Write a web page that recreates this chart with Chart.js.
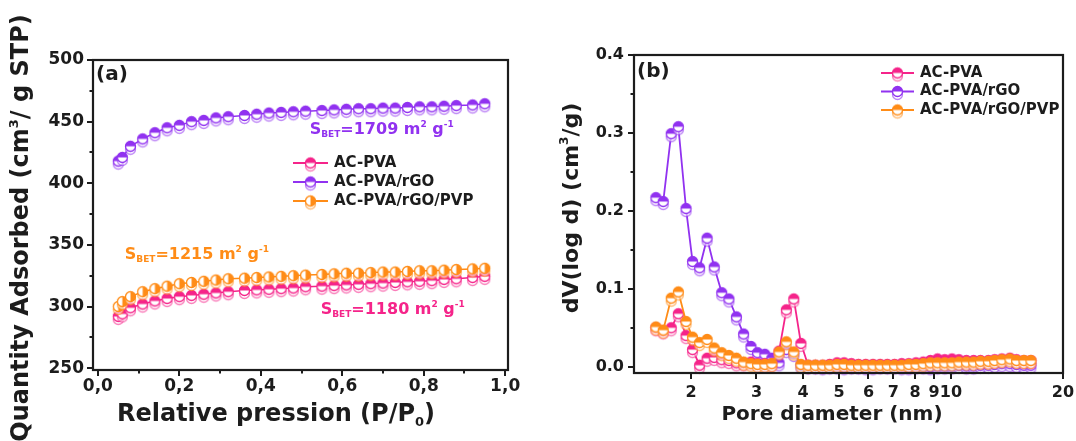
<!DOCTYPE html>
<html>
<head>
<meta charset="utf-8">
<script src="https://cdn.jsdelivr.net/npm/chart.js@4.4.1/dist/chart.umd.min.js"></script>
<style>
  body { margin: 0; background: #fff; width: 1076px; height: 441px; position: relative; overflow: hidden; }
  canvas { position: absolute; top: 0; }
  #isoChart { left: 0; }
  #psdChart { left: 540px; }
</style>
</head>
<body>
<canvas id="isoChart" width="540" height="441" style="width:540px;height:441px"></canvas>
<canvas id="psdChart" width="536" height="441" style="width:536px;height:441px"></canvas>
<script>
// ---- Data: (a) N2 isotherms ----
const relPressure = [0.05, 0.06, 0.08, 0.11, 0.14, 0.17, 0.20, 0.23, 0.26, 0.29,
                     0.32, 0.36, 0.39, 0.42, 0.45, 0.48, 0.51, 0.55, 0.58, 0.61,
                     0.64, 0.67, 0.70, 0.73, 0.76, 0.79, 0.82, 0.85, 0.88, 0.92, 0.95];
const isoPVA = [292, 294, 299, 302, 304.5, 306.5, 308, 309, 310, 311,
                312, 313, 313.5, 314, 314.5, 315, 316, 316.5, 317, 317.5,
                318, 318.5, 319, 319.5, 320, 320.5, 321, 322, 322.5, 323.5, 324.5];
const isoRGO = [418, 421, 430, 436, 441, 445, 447, 450, 451, 453,
                454, 455, 456, 457, 457.5, 458, 458.5, 459, 459.5, 460,
                460.5, 460.5, 461, 461, 461.5, 462, 462, 462.5, 463, 463.5, 464.5];
const isoPVP = [300, 304, 308, 312, 314.5, 316.5, 318.5, 319.5, 320.5, 321.5,
                322.5, 323, 323.5, 324, 324.5, 325, 325.5, 326, 326.5, 327,
                327, 327.5, 328, 328, 328.5, 329, 329, 329.5, 330, 330.5, 331];
const isoTicksX = [0, 0.1, 0.2, 0.3, 0.4, 0.5, 0.6, 0.7, 0.8, 0.9, 1.0];
const isoTicksY = [250, 275, 300, 325, 350, 375, 400, 425, 450, 475, 500];
const sbetValues = ['1180', '1709', '1215'];

// ---- Data: (b) pore size distribution ----
const poreDiameter = [1.61, 1.685, 1.77, 1.85, 1.94, 2.02, 2.11, 2.21, 2.31, 2.42,
                      2.53, 2.65, 2.77, 2.90, 3.02, 3.16, 3.30, 3.45, 3.61, 3.78,
                      3.95, 4.13, 4.32, 4.52, 4.72, 4.94, 5.16, 5.40, 5.64, 5.90,
                      6.17, 6.45, 6.74, 7.05, 7.37, 7.70, 8.05, 8.42, 8.80, 9.20,
                      9.62, 10.06, 10.5, 11.0, 11.5, 12.0, 12.6, 13.1, 13.7, 14.4,
                      15.0, 15.7, 16.4];
const psdPVA = [0.050, 0.046, 0.050, 0.068, 0.040, 0.022, 0.002, 0.011, 0.012, 0.009,
                0.008, 0.005, 0.005, 0.006, 0.004, 0.004, 0.004, 0.020, 0.073, 0.087,
                0.030, 0.002, 0.002, 0.002, 0.003, 0.005, 0.005, 0.004, 0.003, 0.003,
                0.003, 0.003, 0.003, 0.003, 0.004, 0.004, 0.005, 0.006, 0.008, 0.010,
                0.009, 0.010, 0.009, 0.008, 0.008, 0.008, 0.008, 0.009, 0.010, 0.011,
                0.009, 0.008, 0.008];
const psdRGO = [0.217, 0.212, 0.299, 0.308, 0.203, 0.135, 0.127, 0.165, 0.128, 0.095,
                0.087, 0.064, 0.042, 0.026, 0.018, 0.016, 0.011, 0.005, 0.022, 0.017,
                0.002, 0.001, 0.001, 0.000, 0.001, 0.001, 0.000, 0.001, 0.001, 0.000,
                0.000, 0.001, 0.001, 0.001, 0.000, 0.000, 0.001, 0.001, 0.000, 0.001,
                0.001, 0.001, 0.002, 0.001, 0.001, 0.002, 0.002, 0.003, 0.004, 0.004,
                0.003, 0.002, 0.002];
const psdPVP = [0.051, 0.047, 0.088, 0.096, 0.058, 0.038, 0.031, 0.035, 0.024, 0.018,
                0.0145, 0.011, 0.006, 0.004, 0.003, 0.003, 0.004, 0.019, 0.032, 0.019,
                0.003, 0.002, 0.002, 0.002, 0.002, 0.003, 0.003, 0.002, 0.002, 0.002,
                0.002, 0.002, 0.002, 0.002, 0.002, 0.003, 0.003, 0.004, 0.005, 0.005,
                0.005, 0.005, 0.006, 0.006, 0.006, 0.007, 0.007, 0.008, 0.009, 0.010,
                0.008, 0.008, 0.008];
const psdTicksX = [2, 3, 4, 5, 6, 7, 8, 9, 10, 20];
const psdTicksY = [0, 0.05, 0.1, 0.15, 0.2, 0.25, 0.3, 0.35, 0.4];

const seriesNames = ['AC-PVA', 'AC-PVA/rGO', 'AC-PVA/rGO/PVP'];

// Colours
const PINK = '#f5248a', PURPLE = '#9132f0', ORANGE = '#ff8c17', INK = '#1c1c1c';
const FONT = '"DejaVu Sans", Verdana, sans-serif';

// Half filled circle with a faint open circle below (desorption branch)
function marker(color, split, r) {
    const c = document.createElement('canvas');
    c.width = 2 * r + 5; c.height = 2 * r + 11;
    const g = c.getContext('2d');
    const cx = c.width / 2, cy = c.height / 2;
    g.lineWidth = 1.3;
    g.globalAlpha = 0.6;
    g.beginPath(); g.arc(cx, cy + 3, r, 0, 2 * Math.PI);
    g.fillStyle = '#fff'; g.fill(); g.strokeStyle = color; g.stroke();
    g.globalAlpha = 1;
    g.beginPath(); g.arc(cx, cy, r, 0, 2 * Math.PI); g.fillStyle = '#fff'; g.fill();
    g.beginPath();
    if (split === 'right') g.arc(cx, cy, r, -Math.PI / 2, Math.PI / 2);
    else g.arc(cx, cy, r, Math.PI, 2 * Math.PI);
    g.closePath(); g.fillStyle = color; g.fill();
    g.beginPath(); g.arc(cx, cy, r, 0, 2 * Math.PI); g.strokeStyle = color; g.stroke();
    return c;
}

// Rich text: parts = [{t, s (size factor), dy (fraction of size)}]
function drawRich(ctx, parts, x, y, size, color, align, angle) {
    ctx.save();
    ctx.translate(x, y);
    if (angle) ctx.rotate(angle);
    ctx.fillStyle = color;
    ctx.textBaseline = 'middle';
    ctx.textAlign = 'left';
    const fontOf = p => `bold ${Math.round(size * (p.s || 1))}px ${FONT}`;
    let total = 0;
    parts.forEach(p => { ctx.font = fontOf(p); total += ctx.measureText(p.t).width; });
    let cx = align === 'center' ? -total / 2 : 0;
    parts.forEach(p => {
        ctx.font = fontOf(p);
        ctx.fillText(p.t, cx, (p.dy || 0) * size);
        cx += ctx.measureText(p.t).width;
    });
    ctx.restore();
}
const sup = t => ({ t, s: 0.55, dy: -0.32 });
const sub = t => ({ t, s: 0.55, dy: 0.3 });

// Box frame + outward ticks (major = labelled)
const framePlugin = {
    id: 'frame',
    afterDraw(chart) {
        const { ctx, chartArea: a } = chart;
        ctx.save();
        ctx.strokeStyle = INK;
        ctx.lineWidth = 2.2;
        ctx.strokeRect(a.left, a.top, a.right - a.left, a.bottom - a.top);
        ctx.lineWidth = 2;
        ['x', 'y'].forEach(id => {
            const s = chart.scales[id];
            s.ticks.forEach((t, i) => {
                const p = Math.round(s.getPixelForTick(i));
                const len = t.label ? 6 : 3.5;
                ctx.beginPath();
                if (id === 'x') { ctx.moveTo(p, a.bottom); ctx.lineTo(p, a.bottom + len); }
                else { ctx.moveTo(a.left, p); ctx.lineTo(a.left - len, p); }
                ctx.stroke();
            });
        });
        ctx.restore();
    }
};

// Legend, titles and panel annotations
const textPlugin = {
    id: 'texts',
    afterDraw(chart, args, o) {
        const ctx = chart.ctx;
        // legend
        chart.data.datasets.forEach((ds, i) => {
            const y = o.legend.y + i * o.legend.row;
            ctx.save();
            ctx.strokeStyle = ds.borderColor;
            ctx.lineWidth = 2;
            ctx.beginPath(); ctx.moveTo(o.legend.x, y); ctx.lineTo(o.legend.x + o.legend.len, y); ctx.stroke();
            const img = ds.pointStyle;
            ctx.drawImage(img, o.legend.x + o.legend.len / 2 - img.width / 2, y - img.height / 2);
            ctx.restore();
            drawRich(ctx, [{ t: ds.label }], o.legend.x + o.legend.len + 6, y, 15, INK, 'left');
        });
        // panel letter
        drawRich(ctx, [{ t: o.panel.text }], o.panel.x, o.panel.y, 20, INK, 'left');
        // axis titles
        drawRich(ctx, o.xTitle.parts, o.xTitle.x, o.xTitle.y, o.xTitle.size, INK, 'center');
        drawRich(ctx, o.yTitle.parts, o.yTitle.x, o.yTitle.y, o.yTitle.size, INK, 'center', -Math.PI / 2);
        // S_BET notes anchored in data coordinates
        (o.notes || []).forEach(n => {
            const x = chart.scales.x.getPixelForValue(n.x);
            const y = chart.scales.y.getPixelForValue(n.y);
            drawRich(ctx, [{ t: 'S' }, sub('BET'), { t: '=' + n.value + ' m' }, sup('2'), { t: ' g' }, sup('-1')],
                x, y, 16, n.color, 'left');
        });
    }
};

const isMult = (v, step) => Math.abs(v / step - Math.round(v / step)) < 1e-6;
const tickFont = size => ({ family: FONT, weight: 'bold', size });

// fixed axis box sizes so the plot frames land where the original has them
const fixHeight = h => s => { s.height = h; s.paddingLeft = 0; s.paddingRight = 0; };
const fixWidth = w => s => { s.width = w; s.paddingTop = 0; s.paddingBottom = 0; };

// ---- Chart (a) ----
const isoSeries = [isoPVA, isoRGO, isoPVP];
const isoColors = [PINK, PURPLE, ORANGE];
const isoSplit = ['top', 'top', 'right'];
const isoOrder = [1, 2, 0];

new Chart(document.getElementById('isoChart'), {
    type: 'line',
    data: {
        datasets: isoSeries.map((vals, k) => ({
            label: seriesNames[k],
            data: relPressure.map((x, i) => ({ x, y: vals[i] })),
            borderColor: isoColors[k],
            borderWidth: 1.5,
            pointStyle: marker(isoColors[k], isoSplit[k], 5),
            pointRadius: 5,
            tension: 0,
            order: isoOrder[k],
            clip: false
        }))
    },
    options: {
        responsive: false,
        animation: false,
        events: [],
        layout: { padding: { top: 60, right: 32, left: 0, bottom: 0 } },
        plugins: {
            legend: { display: false },
            tooltip: { enabled: false },
            texts: {
                legend: { x: 293, y: 163, row: 19, len: 35 },
                panel: { text: '(a)', x: 96, y: 75 },
                xTitle: { parts: [{ t: 'Relative pression (P/P' }, sub('0'), { t: ')' }], x: 276, y: 415, size: 24 },
                yTitle: { parts: [{ t: 'Quantity Adsorbed (cm' }, sup('3'), { t: '/ g STP)' }], x: 22, y: 228, size: 24 },
                notes: [
                    { x: 0.547, y: 297, value: sbetValues[0], color: PINK },
                    { x: 0.52, y: 443, value: sbetValues[1], color: PURPLE },
                    { x: 0.066, y: 342, value: sbetValues[2], color: ORANGE }
                ]
            }
        },
        scales: {
            x: {
                type: 'linear', min: -0.012, max: 1.007,
                afterBuildTicks: s => { s.ticks = isoTicksX.map(v => ({ value: v })); },
                afterFit: fixHeight(71),
                grid: { display: false, drawTicks: false },
                border: { display: false },
                ticks: {
                    autoSkip: false, maxRotation: 0, padding: 6, color: INK, font: tickFont(17),
                    callback: v => isMult(v, 0.2) ? v.toFixed(1).replace('.', ',') : ''
                }
            },
            y: {
                type: 'linear', min: 248.5, max: 500,
                afterBuildTicks: s => { s.ticks = isoTicksY.map(v => ({ value: v })); },
                afterFit: fixWidth(93),
                grid: { display: false, drawTicks: false },
                border: { display: false },
                ticks: {
                    autoSkip: false, padding: 9, color: INK, font: tickFont(17),
                    callback: v => isMult(v, 50) ? String(v) : ''
                }
            }
        }
    },
    plugins: [framePlugin, textPlugin]
});

// ---- Chart (b) ----
const psdSeries = [psdPVA, psdRGO, psdPVP];
const psdOrder = [1, 2, 0];

new Chart(document.getElementById('psdChart'), {
    type: 'line',
    data: {
        datasets: psdSeries.map((vals, k) => ({
            label: seriesNames[k],
            data: poreDiameter.map((x, i) => ({ x, y: vals[i] })),
            borderColor: isoColors[k],
            borderWidth: 1.8,
            pointStyle: marker(isoColors[k], 'top', 5),
            pointRadius: 5,
            tension: 0,
            order: psdOrder[k],
            clip: false
        }))
    },
    options: {
        responsive: false,
        animation: false,
        events: [],
        layout: { padding: { top: 55, right: 13, left: 0, bottom: 0 } },
        plugins: {
            legend: { display: false },
            tooltip: { enabled: false },
            texts: {
                legend: { x: 341, y: 73, row: 18.5, len: 33 },
                panel: { text: '(b)', x: 97, y: 72 },
                xTitle: { parts: [{ t: 'Pore diameter (nm)' }], x: 292, y: 415, size: 20 },
                yTitle: { parts: [{ t: 'dV(log d) (cm' }, sup('3'), { t: '/g)' }], x: 32, y: 208, size: 22 }
            }
        },
        scales: {
            x: {
                type: 'logarithmic', min: 1.406, max: 20,
                afterBuildTicks: s => { s.ticks = psdTicksX.map(v => ({ value: v })); },
                afterFit: fixHeight(68),
                grid: { display: false, drawTicks: false },
                border: { display: false },
                ticks: {
                    autoSkip: false, maxRotation: 0, padding: 10, color: INK, font: tickFont(16),
                    callback: v => String(v)
                }
            },
            y: {
                type: 'linear', min: -0.008, max: 0.4,
                afterBuildTicks: s => { s.ticks = psdTicksY.map(v => ({ value: v })); },
                afterFit: fixWidth(94),
                grid: { display: false, drawTicks: false },
                border: { display: false },
                ticks: {
                    autoSkip: false, padding: 10, color: INK, font: tickFont(16),
                    callback: v => isMult(v, 0.1) ? v.toFixed(1) : ''
                }
            }
        }
    },
    plugins: [framePlugin, textPlugin]
});
</script>
</body>
</html>
